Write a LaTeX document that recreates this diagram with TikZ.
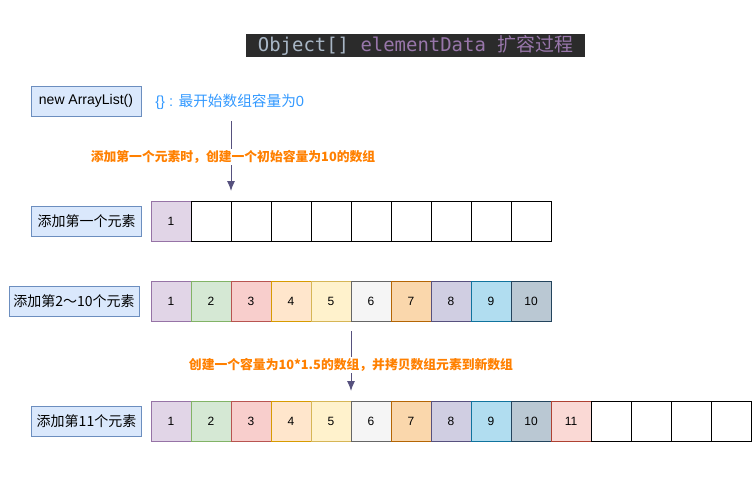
\documentclass[tikz,border=0pt]{standalone}
\usepackage{fontspec}
\setmainfont{Liberation Sans}
\newfontfamily\cjk{Noto Sans CJK SC}
\newfontfamily\codefont{DejaVu Sans Mono}
\usetikzlibrary{arrows.meta}
\definecolor{titlebg}{HTML}{2B2B2B}
\definecolor{codegray}{HTML}{A9B7C6}
\definecolor{codepurple}{HTML}{9876AA}
\definecolor{labelorange}{HTML}{FF8000}
\definecolor{labelblue}{HTML}{3399FF}
\definecolor{arrowcol}{HTML}{56517E}
\definecolor{bluefill}{HTML}{DAE8FC}
\definecolor{bluestroke}{HTML}{6C8EBF}
\definecolor{fA}{HTML}{E1D5E7}\definecolor{sA}{HTML}{9673A6}
\definecolor{fB}{HTML}{D5E8D4}\definecolor{sB}{HTML}{82B366}
\definecolor{fC}{HTML}{F8CECC}\definecolor{sC}{HTML}{B85450}
\definecolor{fD}{HTML}{FFE6CC}\definecolor{sD}{HTML}{D79B00}
\definecolor{fE}{HTML}{FFF2CC}\definecolor{sE}{HTML}{D6B656}
\definecolor{fF}{HTML}{F5F5F5}\definecolor{sF}{HTML}{666666}
\definecolor{fG}{HTML}{FAD7AC}\definecolor{sG}{HTML}{B46504}
\definecolor{fH}{HTML}{D0CEE2}\definecolor{sH}{HTML}{56517E}
\definecolor{fI}{HTML}{B1DDF0}\definecolor{sI}{HTML}{10739E}
\definecolor{fJ}{HTML}{BAC8D3}\definecolor{sJ}{HTML}{23445D}
\definecolor{fK}{HTML}{FAD9D5}\definecolor{sK}{HTML}{AE4132}
\tikzset{
  cell/.style={draw, line width=0.75pt, minimum width=30pt, minimum height=30pt, inner sep=0pt, font=\fontsize{9}{10}\selectfont},
  emptycell/.style={cell, draw=black, fill=white},
  c1/.style={cell, fill=fA, draw=sA},
  c2/.style={cell, fill=fB, draw=sB},
  c3/.style={cell, fill=fC, draw=sC},
  c4/.style={cell, fill=fD, draw=sD},
  c5/.style={cell, fill=fE, draw=sE},
  c6/.style={cell, fill=fF, draw=sF},
  c7/.style={cell, fill=fG, draw=sG},
  c8/.style={cell, fill=fH, draw=sH},
  c9/.style={cell, fill=fI, draw=sI},
  c10/.style={cell, fill=fJ, draw=sJ},
  c11/.style={cell, fill=fK, draw=sK},
  stepbox/.style={draw=bluestroke, fill=bluefill, line width=0.75pt, minimum height=22.5pt, inner sep=0pt, font=\fontsize{10.5}{12}\selectfont},
  orangelabel/.style={fill=white, inner sep=1pt, text=labelorange, font=\cjk\bfseries\fontsize{9.6}{11}\selectfont},
  flow/.style={draw=arrowcol, line width=0.75pt, -{Latex[length=7.5pt,width=6pt]}}
}
\begin{document}
\begin{tikzpicture}[x=0.75pt,y=-0.75pt]
\useasboundingbox (0,0) rectangle (752,482);
% title
\node[fill=titlebg, minimum width=254.25pt, minimum height=17.25pt, inner sep=0pt] (title) at (415.5,45.5)
  {\fontsize{14.2}{16}\selectfont\textcolor{codegray}{\codefont Object[]}\textcolor{codepurple}{\codefont\ elementData }\textcolor{codepurple}{\cjk 扩容过程}};
% step boxes
\node[stepbox, minimum width=82.5pt] (init) at (86,101) {new ArrayList()};
\node[anchor=west, text=labelblue, font=\fontsize{11}{12}\selectfont, inner sep=0pt] (empty) at (155,102) {\{\} : {\cjk 最开始数组容量为}0};
\node[stepbox, minimum width=82pt] (s1) at (86.5,221) {\cjk 添加第一个元素};
\node[stepbox, minimum width=97.5pt] (s2) at (74,301) {\cjk 添加第2～10个元素};
\node[stepbox, minimum width=82pt] (s3) at (86.5,421) {\cjk 添加第11个元素};
% row 1
\node[c1] (r1c1) at (171,221) {1};
\foreach \i in {2,...,10} {
  \node[emptycell] (r1c\i) at ({131+40*\i},221) {};
}
% row 2
\foreach \i in {1,...,10} {
  \node[c\i] (r2c\i) at ({131+40*\i},301) {\i};
}
% row 3
\foreach \i in {1,...,11} {
  \node[c\i] (r3c\i) at ({131+40*\i},421) {\i};
}
\foreach \i in {12,...,15} {
  \node[emptycell] (r3c\i) at ({131+40*\i},421) {};
}
% arrows
\coordinate (a1s) at (231,121);
\coordinate (a1e) at (231,191);
\coordinate (a2s) at (351,331);
\coordinate (a2e) at (351,391);
\draw[flow] (a1s) -- (a1e);
\draw[flow] (a2s) -- (a2e);
\node[orangelabel] (l1) at (233,157) {添加第一个元素时，创建一个初始容量为10的数组};
\node[orangelabel] (l2) at (351,365) {创建一个容量为10*1.5的数组，并拷贝数组元素到新数组};
\end{tikzpicture}
\end{document}
